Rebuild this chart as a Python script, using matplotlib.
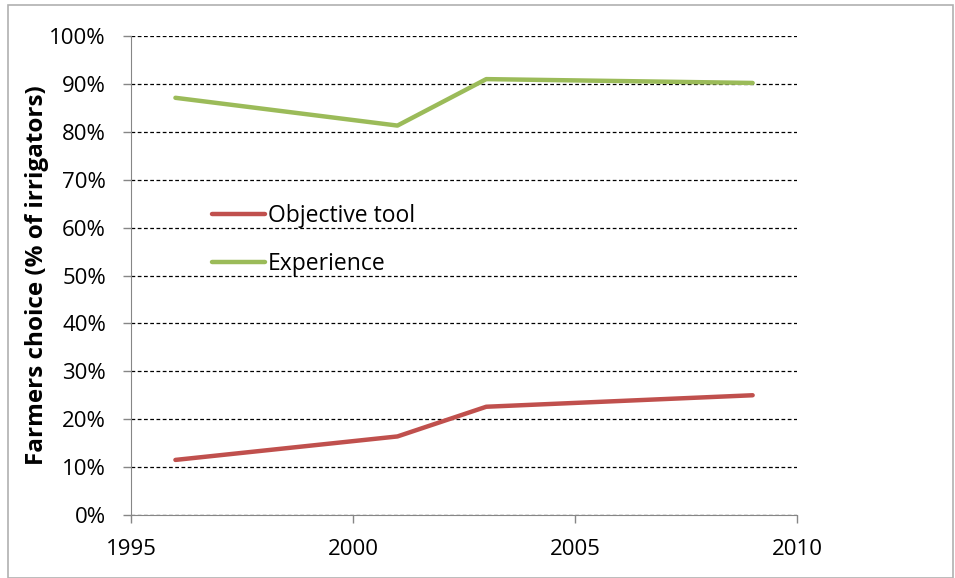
import matplotlib
matplotlib.use('Agg')
import matplotlib.pyplot as plt
from matplotlib.patches import Rectangle
from matplotlib.ticker import PercentFormatter

plt.rcParams['font.family'] = ['Open Sans', 'DejaVu Sans']

# data
years = [1996, 2001, 2003, 2009]
objective_tool = [11.5, 16.4, 22.6, 25.0]
experience = [87.1, 81.3, 91.0, 90.2]

fig = plt.figure(figsize=(9.55, 5.78), dpi=100)
ax = fig.add_axes([0.1372, 0.109, 0.6974, 0.8287])

ax.plot(years, objective_tool, color='#c0504d', lw=3.2, label='Objective tool', solid_capstyle='round')
ax.plot(years, experience, color='#9bbb59', lw=3.2, label='Experience', solid_capstyle='round')

ax.set_xlim(1995, 2010)
ax.set_ylim(0, 100)
ax.set_xticks([1995, 2000, 2005, 2010])
ax.set_yticks(range(0, 101, 10))
ax.yaxis.set_major_formatter(PercentFormatter(decimals=0))
ax.grid(axis='y', color='black', linestyle=(0, (3, 2)), lw=0.9)
ax.set_axisbelow(True)

for s in ['top', 'right']:
    ax.spines[s].set_visible(False)
for s in ['left', 'bottom']:
    ax.spines[s].set_color('#868686')
ax.tick_params(axis='both', labelsize=16, color='#868686', length=6, width=1)
ax.tick_params(axis='x', pad=11)
ax.tick_params(axis='y', pad=12)

ax.set_ylabel('Farmers choice (% of irrigators)', fontsize=17.5, fontweight='bold', labelpad=0)

ax.legend(loc='center left', bbox_to_anchor=(0.122, 0.574), frameon=False, fontsize=16.5,
          handlelength=2.3, handletextpad=0.12, labelspacing=1.05, borderpad=0, borderaxespad=0)

fig.patches.append(Rectangle((0.008, 0.0), 0.99, 0.991, transform=fig.transFigure,
                             fill=False, edgecolor='#b0b0b0', lw=1.2))

fig.savefig('out.png', dpi=100)
